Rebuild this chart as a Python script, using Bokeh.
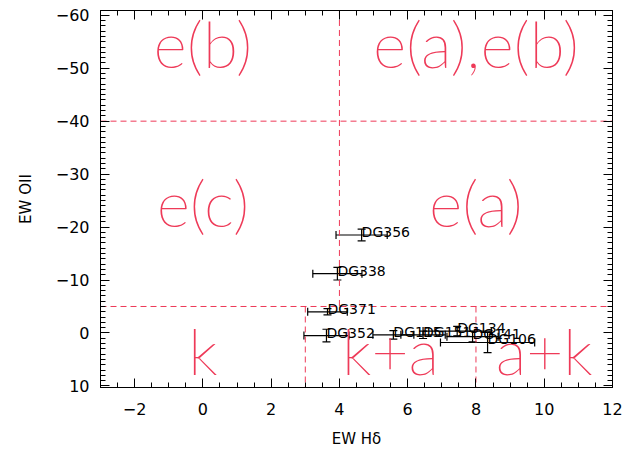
from bokeh.plotting import figure
from bokeh.models import (Range1d, LinearAxis, Whisker, ColumnDataSource, TeeHead,
                          CustomJSTickFormatter, SingleIntervalTicker)
from bokeh.core.properties import value
from bokeh.embed import file_html
from bokeh.resources import INLINE

# ---- data ----
names = ["DG356", "DG338", "DG371", "DG352", "DG115", "DG151", "DG134", "DG141", "DG106"]
hd = [4.65, 3.94, 3.65, 3.62, 5.58, 6.45, 7.45, 7.9, 8.34]
hd_err = [0.75, 0.72, 0.58, 0.66, 0.6, 0.65, 1.0, 0.75, 1.38]
oii = [-18.5, -11.2, -4.0, 0.5, 0.35, 0.35, -0.35, 0.7, 1.8]
oii_err = [1.1, 1.2, 0.6, 1.2, 0.8, 0.7, 0.9, 1.0, 1.9]

region_names = ["e(b)", "e(a),e(b)", "e(c)", "e(a)", "k", "k+a", "a+k"]
region_x = [0, 8, 0, 8, 0, 5.5, 10]
region_y = [-50, -50, -20, -20, 8, 8, 8]

# class boundaries (x0, y0, x1, y1)
bx0 = [4, -3, -3, 3, 8]
by0 = [-61, -40, -5, -5, -5]
bx1 = [4, 12, 12, 3, 8]
by1 = [-5, -40, -5, 11, 11]

XMIN, XMAX = -3, 12
YBOT, YTOP = 10.3, -60.9

RED = "#ee3a58"
FONT = "DejaVu Sans"

p = figure(width=624, height=450, output_backend="svg", toolbar_location=None,
           x_range=Range1d(XMIN, XMAX), y_range=Range1d(YBOT, YTOP),
           min_border_left=100, min_border_right=12, min_border_top=10, min_border_bottom=62,
           x_axis_label="EW Hδ", y_axis_label="EW OII")
p.grid.visible = False
p.outline_line_color = "black"
p.background_fill_color = "white"
p.border_fill_color = "white"

fmt = CustomJSTickFormatter(code="return tick < 0 ? '\u2212' + Math.abs(tick) : String(tick);")
blank = CustomJSTickFormatter(code="return '';")

def style_axis(ax, labels=True):
    ax.major_tick_in = 9
    ax.major_tick_out = 0
    ax.minor_tick_in = 5
    ax.minor_tick_out = 0
    ax.axis_line_color = "black"
    ax.major_tick_line_color = "black"
    ax.minor_tick_line_color = "black"
    ax.major_label_text_font = FONT
    ax.major_label_text_font_size = "16px"
    ax.major_label_text_color = "black"
    ax.axis_label_text_font = FONT
    ax.axis_label_text_font_size = "15px"
    ax.axis_label_text_font_style = "normal"
    ax.axis_label_text_color = "black"
    if not labels:
        ax.formatter = blank
        ax.major_label_standoff = 0
        ax.axis_label = None

p.xaxis.ticker = SingleIntervalTicker(interval=2, num_minor_ticks=4)
p.yaxis.ticker = SingleIntervalTicker(interval=10, num_minor_ticks=10)
p.xaxis.formatter = fmt
p.yaxis.formatter = fmt
style_axis(p.xaxis[0])
style_axis(p.yaxis[0])
p.xaxis.major_label_standoff = 15
p.yaxis.major_label_standoff = 11
p.xaxis.axis_label_standoff = 12
p.yaxis.axis_label_standoff = 18

top = LinearAxis(ticker=SingleIntervalTicker(interval=2, num_minor_ticks=4))
right = LinearAxis(ticker=SingleIntervalTicker(interval=10, num_minor_ticks=10))
style_axis(top, False)
style_axis(right, False)
p.add_layout(top, "above")
p.add_layout(right, "right")

# class boundaries
p.segment(x0=bx0, y0=by0, x1=bx1, y1=by1, line_color=RED, line_dash="6 4", line_width=1)

# region labels
p.text(x=region_x, y=region_y, text=region_names, text_color=RED,
       text_font=value("Lato Thin, Lato Light, Lato"), text_font_size="64px",
       text_align="center", text_baseline="alphabetic", y_offset=-25)

# points with error bars
xl = [a - b for a, b in zip(hd, hd_err)]
xu = [a + b for a, b in zip(hd, hd_err)]
yl = [a - b for a, b in zip(oii, oii_err)]
yu = [a + b for a, b in zip(oii, oii_err)]
src = ColumnDataSource(dict(x=hd, y=oii, xl=xl, xu=xu, yl=yl, yu=yu, name=names))

wx = Whisker(source=src, base="y", lower="xl", upper="xu", dimension="width",
             line_color="black", line_width=1.2,
             lower_head=TeeHead(size=8, line_color="black", line_width=1.2),
             upper_head=TeeHead(size=8, line_color="black", line_width=1.2))
wy = Whisker(source=src, base="x", lower="yl", upper="yu", dimension="height",
             line_color="black", line_width=1.2,
             lower_head=TeeHead(size=8, line_color="black", line_width=1.2),
             upper_head=TeeHead(size=8, line_color="black", line_width=1.2))
p.add_layout(wx)
p.add_layout(wy)

p.text(x="x", y="y", text="name", source=src, text_color="black",
       text_font=value(FONT), text_font_size="14px",
       text_align="left", text_baseline="alphabetic", y_offset=-3)

open("out.html", "w").write(file_html(p, INLINE))
